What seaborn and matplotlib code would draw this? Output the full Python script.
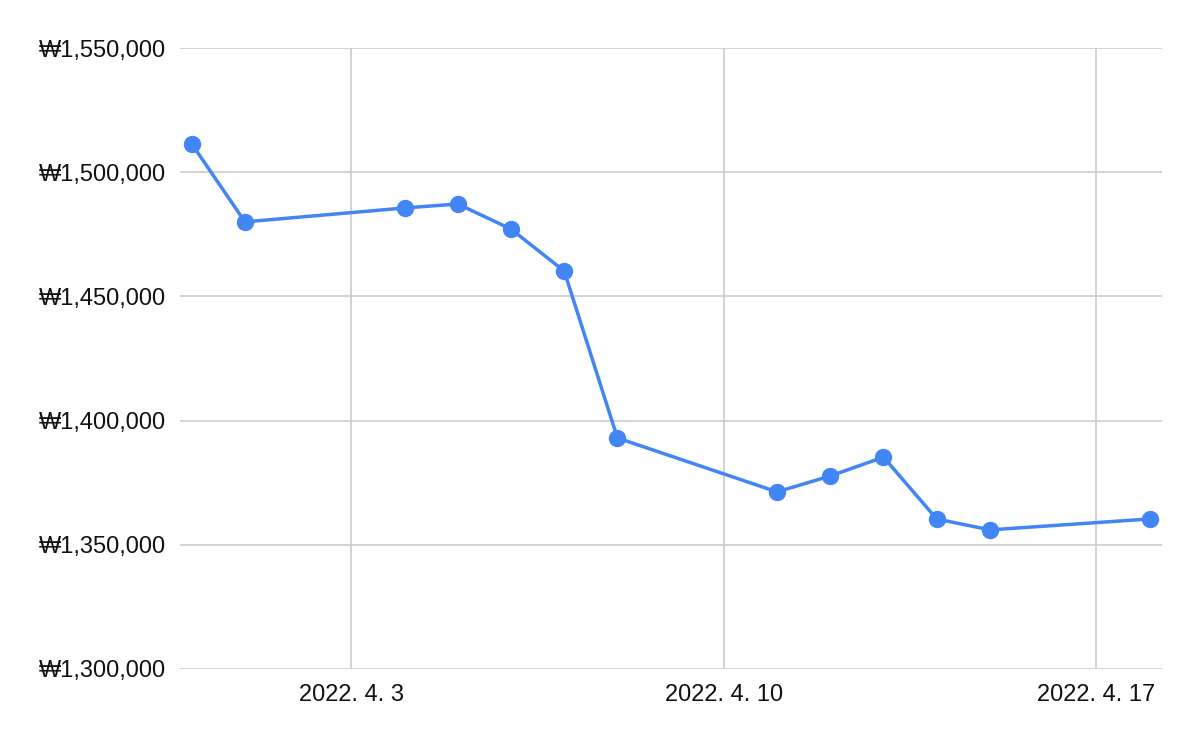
import pandas as pd
import matplotlib.pyplot as plt
import matplotlib.ticker as mticker
import seaborn as sns

# Data
dates = ["2022-03-31", "2022-04-01", "2022-04-04", "2022-04-05", "2022-04-06",
         "2022-04-07", "2022-04-08", "2022-04-11", "2022-04-12", "2022-04-13",
         "2022-04-14", "2022-04-15", "2022-04-18"]
prices = [1511400, 1480000, 1485600, 1487200, 1477100,
          1460200, 1393000, 1371300, 1377700, 1385300,
          1360400, 1356000, 1360400]
y_ticks = [1300000, 1350000, 1400000, 1450000, 1500000, 1550000]
x_ticks = ["2022-04-03", "2022-04-10", "2022-04-17"]

df = pd.DataFrame({"date": pd.to_datetime(dates), "price": prices})

sns.set_theme(style="white")
plt.rcParams['font.family'] = ['Liberation Sans', 'Noto Sans CJK KR', 'DejaVu Sans']

fig, ax = plt.subplots(figsize=(12, 7.42), dpi=100)
fig.subplots_adjust(left=0.15, right=0.9683, top=0.9353, bottom=0.0984)

sns.lineplot(data=df, x="date", y="price", ax=ax, color="#4285F4",
             linewidth=2.5, marker="o", markersize=12.5,
             markeredgewidth=0, zorder=3)

ax.set_ylim(y_ticks[0], y_ticks[-1])
ax.set_yticks(y_ticks)
ax.yaxis.set_major_formatter(mticker.FuncFormatter(lambda v, p: "₩{:,.0f}".format(v)))

xt = pd.to_datetime(x_ticks)
ax.set_xticks(xt)
ax.set_xticklabels([f"{d.year}. {d.month}. {d.day}" for d in xt])
ax.set_xlim(pd.Timestamp("2022-03-31") - pd.Timedelta(hours=5.3),
            pd.Timestamp("2022-04-18") + pd.Timedelta(hours=5.6))

ax.grid(True, color="#cccccc", linewidth=1.2)
ax.set_axisbelow(True)
for s in ax.spines.values():
    s.set_visible(False)
ax.tick_params(axis="both", length=0, labelsize=17, colors="#111111")
ax.tick_params(axis="y", pad=10)
ax.tick_params(axis="x", pad=11)
ax.set_xlabel("")
ax.set_ylabel("")

plt.savefig("out.png", dpi=100)
